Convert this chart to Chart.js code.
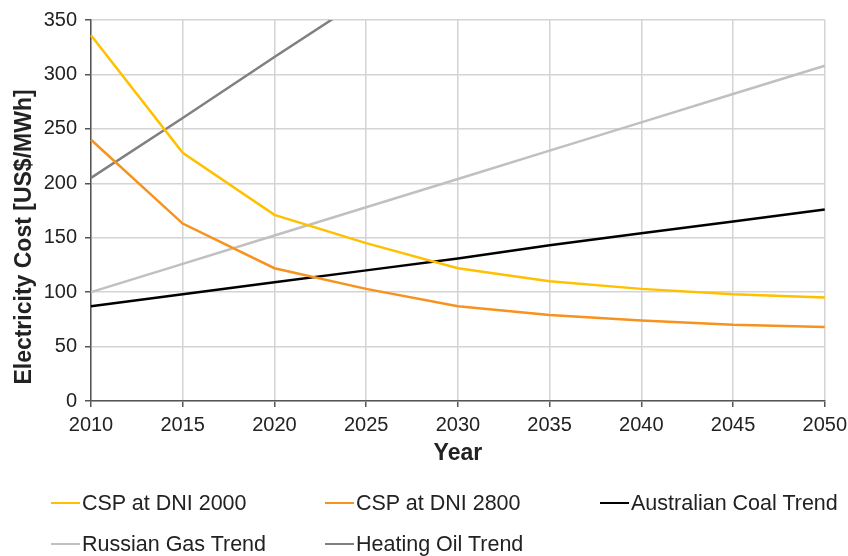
<!DOCTYPE html>
<html>
<head>
<meta charset="utf-8">
<script src="https://cdn.jsdelivr.net/npm/chart.js@4.4.0/dist/chart.umd.min.js"></script>
<style>
  html, body { margin: 0; padding: 0; background: #fff; overflow: hidden; }
  #wrap { position: relative; width: 848px; height: 556px; overflow: hidden; }
  #chart-box { position: absolute; left: 0; top: 0; width: 853px; height: 470px; }
  #legend { position: absolute; left: 0; top: 0; width: 848px; height: 556px; pointer-events: none;
            font-family: "Liberation Sans", Arial, sans-serif; font-size: 21.5px; color: #222; }
  .leg-item { position: absolute; display: flex; align-items: center; white-space: nowrap; height: 26px; }
  .leg-line { width: 29px; height: 2.5px; margin-right: 2px; }
</style>
</head>
<body>
<div id="wrap">
  <div id="chart-box"><canvas id="chart"></canvas></div>
  <div id="legend"></div>
</div>
<script>
// --- Data ---
const years = ['2010', '2015', '2020', '2025', '2030', '2035', '2040', '2045', '2050'];
const cspDni2000 = [336, 228, 171, 145, 122, 110, 103, 98, 95];
const cspDni2800 = [240, 163, 122, 103, 87, 79, 74, 70, 68];
const coalTrend = [87, 98, 109, 120, 131, 143, 154, 165, 176];
const gasTrend = [100, 126, 152, 178, 204, 230, 256, 282, 308];
const oilTrend = [205, 260, 316, 371, null, null, null, null, null];
const yTicks = [0, 50, 100, 150, 200, 250, 300, 350];

const FONT = '"Liberation Sans", Arial, sans-serif';

const line = (label, data, color) => ({
    label, data, borderColor: color, backgroundColor: color,
    borderWidth: 2.5, pointRadius: 0, tension: 0, fill: false
});

// y axis title drawn by hand so it sits where the original has it
const yTitlePlugin = {
    id: 'yTitle',
    afterDraw(chart) {
        const ctx = chart.ctx;
        ctx.save();
        ctx.translate(25, 237);
        ctx.rotate(-Math.PI / 2);
        ctx.font = 'bold 23px ' + FONT;
        ctx.fillStyle = '#222';
        ctx.textAlign = 'center';
        ctx.textBaseline = 'middle';
        ctx.fillText('Electricity Cost [US$/MWh]', 0, 0);
        ctx.restore();
    }
};

const chart = new Chart(document.getElementById('chart'), {
    type: 'line',
    data: {
        labels: years,
        datasets: [
            line('CSP at DNI 2000', cspDni2000, '#FFC000'),
            line('CSP at DNI 2800', cspDni2800, '#F7921E'),
            line('Australian Coal Trend', coalTrend, '#000000'),
            line('Russian Gas Trend', gasTrend, '#C0C0C0'),
            line('Heating Oil Trend', oilTrend, '#808080')
        ]
    },
    options: {
        responsive: true,
        maintainAspectRatio: false,
        animation: false,
        layout: { padding: { left: 0, right: 19, top: 20, bottom: 0 } },
        plugins: { legend: { display: false }, tooltip: { enabled: false } },
        scales: {
            x: {
                offset: false,
                grid: { color: '#d4d4d4', lineWidth: 1.5, tickLength: 6, tickColor: '#555' },
                border: { color: '#555', width: 1.5 },
                ticks: { color: '#222', font: { family: FONT, size: 20 }, padding: 6, maxRotation: 0, autoSkip: false },
                title: { display: true, text: 'Year', color: '#222', font: { family: FONT, size: 23, weight: 'bold' }, padding: { top: 0, bottom: 3 } },
                afterFit: s => { s.height = 69; }
            },
            y: {
                min: 0, max: 350,
                afterBuildTicks: s => { s.ticks = yTicks.map(v => ({ value: v })); },
                grid: { color: '#d4d4d4', lineWidth: 1.5, tickLength: 6, tickColor: '#555' },
                border: { color: '#555', width: 1.5 },
                ticks: { color: '#222', font: { family: FONT, size: 20 }, padding: 8 },
                afterFit: s => { s.width = 91; }
            }
        }
    },
    plugins: [yTitlePlugin]
});

// --- Legend (3 columns, 2 rows like the original) ---
const legendPos = [[51, 490], [325, 490], [600, 490], [51, 531], [325, 531]];
const legendEl = document.getElementById('legend');
chart.data.datasets.forEach((ds, i) => {
    const item = document.createElement('div');
    item.className = 'leg-item';
    item.style.left = legendPos[i][0] + 'px';
    item.style.top = legendPos[i][1] + 'px';
    item.innerHTML = `<span class="leg-line" style="background:${ds.borderColor}"></span><span>${ds.label}</span>`;
    legendEl.appendChild(item);
});
</script>
</body>
</html>
